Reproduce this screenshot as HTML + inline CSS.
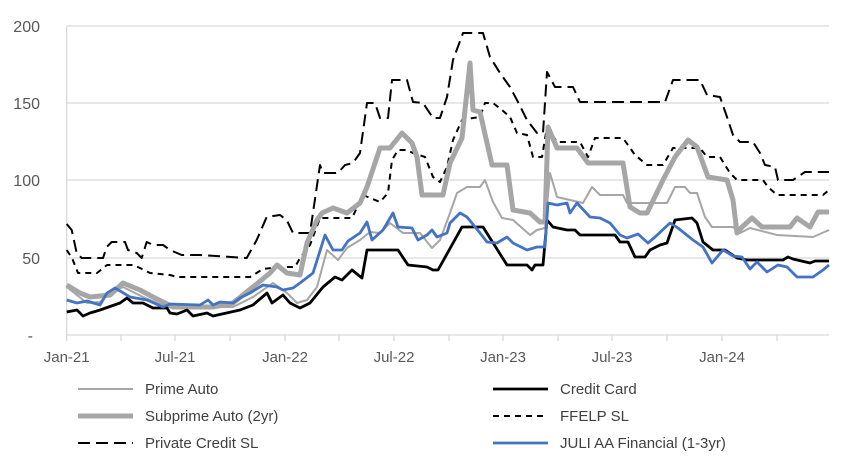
<!DOCTYPE html>
<html><head><meta charset="utf-8"><style>
body{margin:0;background:#fff;}
svg{display:block;font-family:"Liberation Sans",Arial,sans-serif;}
</style></head><body>
<svg width="852" height="469" viewBox="0 0 852 469" xmlns="http://www.w3.org/2000/svg">
<g stroke="#d9d9d9" stroke-width="1.3">
<line x1="66.7" y1="26" x2="829" y2="26"/>
<line x1="66.7" y1="103" x2="829" y2="103"/>
<line x1="66.7" y1="180" x2="829" y2="180"/>
<line x1="66.7" y1="258" x2="829" y2="258"/>
<line x1="66.7" y1="26" x2="66.7" y2="335"/>
<line x1="66.7" y1="335" x2="829" y2="335"/>
<line x1="66.7" y1="335" x2="66.7" y2="341"/><line x1="121" y1="335" x2="121" y2="341"/>
<line x1="175" y1="335" x2="175" y2="341"/><line x1="230" y1="335" x2="230" y2="341"/>
<line x1="285" y1="335" x2="285" y2="341"/><line x1="339" y1="335" x2="339" y2="341"/>
<line x1="394" y1="335" x2="394" y2="341"/><line x1="449" y1="335" x2="449" y2="341"/>
<line x1="503" y1="335" x2="503" y2="341"/><line x1="558" y1="335" x2="558" y2="341"/>
<line x1="612" y1="335" x2="612" y2="341"/><line x1="667" y1="335" x2="667" y2="341"/>
<line x1="722" y1="335" x2="722" y2="341"/><line x1="777" y1="335" x2="777" y2="341"/>
</g>
<g fill="#595959" font-size="16" text-anchor="end">
<text x="40" y="32">200</text><text x="40" y="109">150</text><text x="40" y="186">100</text><text x="40" y="264">50</text><text x="33" y="341">-</text>
</g>
<g fill="#595959" font-size="15" text-anchor="middle">
<text x="66.7" y="362">Jan-21</text><text x="175" y="362">Jul-21</text><text x="285" y="362">Jan-22</text><text x="394" y="362">Jul-22</text><text x="503" y="362">Jan-23</text><text x="612" y="362">Jul-23</text><text x="722" y="362">Jan-24</text>
</g>
<g fill="none" stroke-linejoin="round">
<polyline stroke="#000" stroke-width="2" stroke-dasharray="12,6" points="66.7,224 71.7,230 76.7,253 81.7,258 103,258 106.7,247 111.7,242 125,242 128,250 136.7,253 141.7,258 146.7,242 153,245 163,245 170,250 181.7,255 200,255 246.7,258 256.7,240 266.7,217 280,215 286.7,220 293,233 310,233 320,165 323,173 338,173 345,165 353,163 360,153 367,103 375,103 380,118 388,118 392,80 407,80 413,102 423,103 433,118 440,118 447,97 453,60 463,33 483,33 490,57 500,73 510,87 518,102 527,120 537,133 543,133 547,72 555,87 573,87 580,102 665,102 673,80 700,80 707,95 720,97 727,117 733,135 740,142 753,142 760,153 765,165 775,167 778,180 793,180 805,172 829,172"/>
<polyline stroke="#000" stroke-width="2" stroke-dasharray="6,5" points="66.7,250 72,258 78,273 97,273 107,265 133,265 140,268 150,273 170,275 177,277 250,277 263,269 280,267 295,267 300,258 310,245 320,218 352,218 363,195 380,202 388,193 392,160 398,150 407,150 413,153 425,157 433,177 440,182 447,167 453,140 462,120 473,118 480,117 485,103 493,103 502,110 510,117 517,133 527,135 533,157 542,157 547,127 557,142 580,142 588,157 595,138 623,138 635,155 647,165 663,165 673,148 700,148 707,157 720,157 730,173 737,180 763,180 768,187 777,195 823,195 829,190"/>
<polyline stroke="#a6a6a6" stroke-width="5" points="66.7,285 80,293 90,297 110,295 123,283 140,290 153,297 173,307 213,307 233,303 253,287 270,273 277,265 287,273 300,275 307,243 317,220 322,213 333,208 347,213 360,203 367,187 380,148 390,148 402,133 412,143 417,157 422,195 443,195 450,163 462,138 470,63 473,110 480,112 492,165 507,165 513,210 530,213 540,222 545,222 548,127 557,148 577,148 588,163 623,163 630,207 640,213 647,213 663,180 675,157 688,140 697,147 708,177 727,180 733,200 737,233 742,227 752,218 762,227 790,227 797,218 810,227 818,212 829,212"/>
<polyline stroke="#a6a6a6" stroke-width="2" points="66.7,287 87,303 100,302 110,293 123,287 143,297 167,307 233,307 253,297 273,283 287,293 297,303 307,300 317,287 327,250 338,260 347,248 360,240 370,232 380,233 390,223 403,233 420,233 432,248 440,240 450,213 457,193 467,187 480,187 485,180 493,202 502,218 513,220 530,235 537,230 545,228 550,173 557,197 583,203 592,187 600,195 623,195 627,203 667,203 675,187 685,187 690,193 697,193 705,217 712,227 733,227 740,233 750,228 777,235 813,237 829,230"/>
<polyline stroke="#000" stroke-width="2.8" points="66.7,312 77,310 83,316 90,313 100,310 120,303 127,298 133,303 143,303 153,308 167,308 170,313 177,314 187,310 193,316 207,313 213,316 240,310 253,305 267,293 272,303 283,295 290,303 300,308 310,303 323,287 335,277 342,280 352,270 362,278 367,250 398,250 408,265 427,267 433,270 438,270 462,227 483,227 507,265 527,265 532,270 535,265 543,265 547,220 553,227 567,230 575,230 580,235 615,235 620,242 628,242 635,257 645,257 650,250 660,245 667,243 675,220 692,218 697,223 703,242 713,250 725,250 737,258 747,260 783,260 788,257 793,259 810,263 815,261 829,261"/>
<polyline stroke="#4472c4" stroke-width="2.8" points="66.7,300 77,303 87,301 100,305 107,293 115,288 130,297 147,300 163,307 170,304 200,305 208,300 213,305 220,302 233,303 240,298 250,293 263,285 277,287 283,290 293,288 300,283 313,273 325,235 333,250 342,250 348,241 360,233 367,222 372,240 383,230 393,213 398,227 412,228 418,240 427,235 432,230 437,237 447,233 450,223 460,213 467,217 480,233 487,242 497,243 507,237 513,243 527,250 537,247 545,247 548,203 557,205 567,203 570,213 577,203 590,217 600,218 610,223 620,235 627,238 638,234 648,243 655,237 670,223 678,228 693,240 703,247 712,263 723,250 733,256 742,257 750,269 757,262 767,272 778,265 787,267 797,277 813,277 823,270 829,265"/>
</g>
<g stroke-width="2.5" fill="none">
<line x1="78" y1="389" x2="133" y2="389" stroke="#a6a6a6" stroke-width="2"/>
<line x1="493" y1="389" x2="548" y2="389" stroke="#000" stroke-width="2.8"/>
<line x1="78" y1="416" x2="133" y2="416" stroke="#a6a6a6" stroke-width="5"/>
<line x1="493" y1="416" x2="548" y2="416" stroke="#000" stroke-width="2" stroke-dasharray="6,5"/>
<line x1="78" y1="443" x2="133" y2="443" stroke="#000" stroke-width="2" stroke-dasharray="12,6"/>
<line x1="493" y1="443" x2="548" y2="443" stroke="#4472c4" stroke-width="2.8"/>
</g>
<g fill="#404040" font-size="15">
<text x="145" y="394">Prime Auto</text><text x="560" y="394">Credit Card</text>
<text x="145" y="421">Subprime Auto (2yr)</text><text x="560" y="421">FFELP SL</text>
<text x="145" y="448">Private Credit SL</text><text x="560" y="448">JULI AA Financial (1-3yr)</text>
</g>
</svg>
</body></html>
